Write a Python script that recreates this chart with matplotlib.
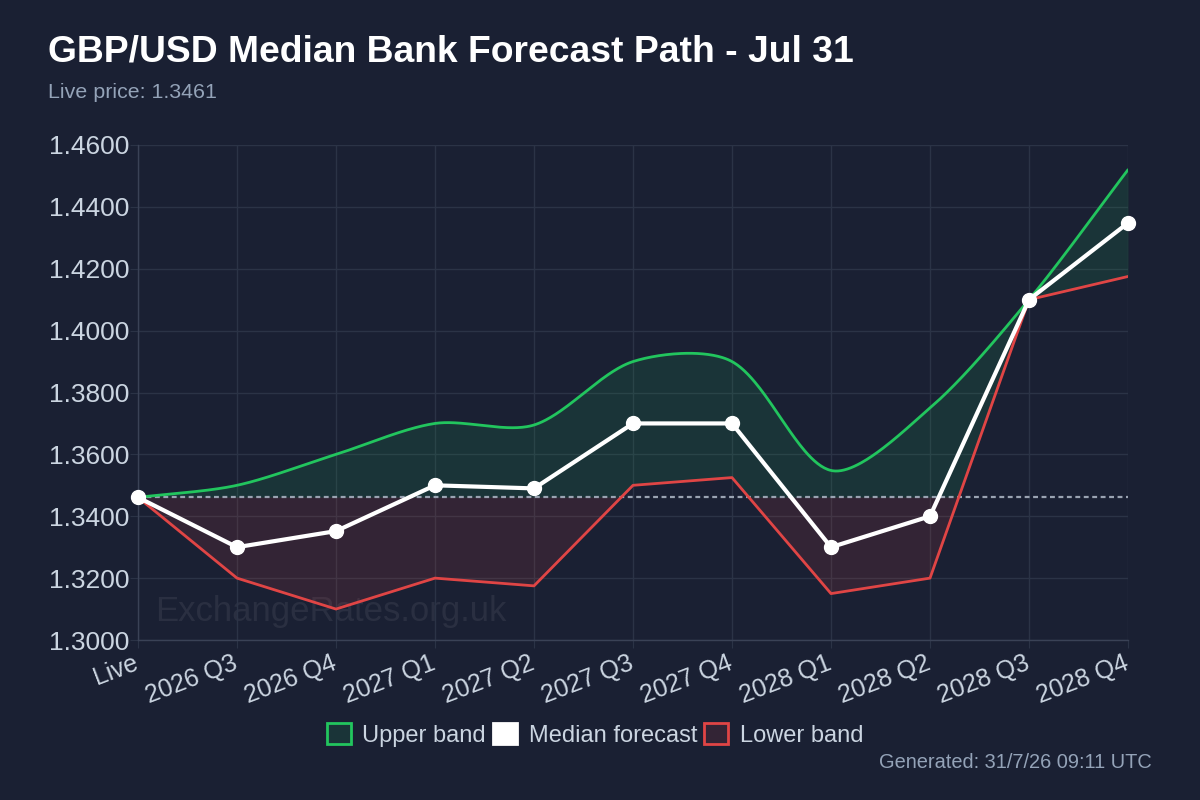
import numpy as np
import matplotlib
matplotlib.use("Agg")
import matplotlib.pyplot as plt
from matplotlib.patches import Patch
from matplotlib.transforms import ScaledTranslation

# ---------------- data ----------------
labels = ["Live", "2026 Q3", "2026 Q4", "2027 Q1", "2027 Q2", "2027 Q3",
          "2027 Q4", "2028 Q1", "2028 Q2", "2028 Q3", "2028 Q4"]
upper = [1.3461, 1.3500, 1.3600, 1.3700, 1.3695, 1.3900, 1.3900, 1.3548, 1.3750, 1.4100, 1.4520]
median = [1.3461, 1.3300, 1.3352, 1.3500, 1.3490, 1.3700, 1.3700, 1.3300, 1.3400, 1.4100, 1.4348]
lower = [1.3461, 1.3200, 1.3100, 1.3200, 1.3175, 1.3500, 1.3525, 1.3150, 1.3200, 1.4100, 1.4175]
live_price = 1.3461
y_ticks = [1.30, 1.32, 1.34, 1.36, 1.38, 1.40, 1.42, 1.44, 1.46]

title = "GBP/USD Median Bank Forecast Path - Jul 31"
subtitle = "Live price: 1.3461"
generated = "Generated: 31/7/26 09:11 UTC"
watermark = "ExchangeRates.org.uk"

# ---------------- style ----------------
BG = "#1a2033"
GRID = "#2b3346"
TXT = "#cbd5e1"
MUTED = "#94a3b8"
GREEN = "#22c55e"
RED = "#e04545"
plt.rcParams["font.family"] = ["Liberation Sans", "DejaVu Sans"]

fig = plt.figure(figsize=(12, 8), dpi=100, facecolor=BG)
ax = fig.add_axes([138 / 1200, 160 / 800, 990 / 1200, 495 / 800])
ax.set_facecolor(BG)

x = np.arange(len(labels))
ax.set_xlim(0, len(labels) - 1)
ax.set_ylim(y_ticks[0], y_ticks[-1])


# Chart.js-like bezier spline (tension) computed in pixel space
def spline_path(xs, ys, t=0.3, n=60):
    pts = ax.transData.transform(np.column_stack([xs, ys]))
    N = len(pts)
    cp_prev = np.zeros_like(pts)
    cp_next = np.zeros_like(pts)
    for i in range(N):
        prev = pts[i - 1] if i > 0 else pts[i]
        nxt = pts[i + 1] if i < N - 1 else pts[i]
        d01 = np.hypot(*(pts[i] - prev))
        d12 = np.hypot(*(nxt - pts[i]))
        tot = d01 + d12
        s01 = d01 / tot if tot > 0 else 0
        s12 = d12 / tot if tot > 0 else 0
        cp_prev[i] = pts[i] - t * s01 * (nxt - prev)
        cp_next[i] = pts[i] + t * s12 * (nxt - prev)
    out = [pts[0]]
    tt = np.linspace(0, 1, n)[1:, None]
    for i in range(N - 1):
        p0, p1, p2, p3 = pts[i], cp_next[i], cp_prev[i + 1], pts[i + 1]
        seg = ((1 - tt) ** 3) * p0 + 3 * ((1 - tt) ** 2) * tt * p1 + 3 * (1 - tt) * tt ** 2 * p2 + tt ** 3 * p3
        out.extend(seg)
    out = np.array(out)
    return ax.transData.inverted().transform(out)


up_curve = spline_path(x, upper)
order = np.argsort(up_curve[:, 0], kind="stable")
xd = np.linspace(0, len(labels) - 1, 2000)
up_d = np.interp(xd, up_curve[order, 0], up_curve[order, 1])
lo_d = np.interp(xd, x, lower)

# fills
floor_d = np.maximum(lo_d, live_price)
ax.fill_between(xd, up_d, floor_d, where=up_d >= floor_d,
                color=GREEN, alpha=0.12, linewidth=0, interpolate=True, zorder=1)
ax.fill_between(xd, lo_d, live_price, where=lo_d < live_price,
                color=RED, alpha=0.13, linewidth=0, interpolate=True, zorder=1)

# grid
ax.set_xticks(x)
ax.set_yticks(y_ticks)
ax.grid(True, color=GRID, linewidth=1)
ax.set_axisbelow(True)
for s in ["top", "right"]:
    ax.spines[s].set_visible(False)
for s in ["left", "bottom"]:
    ax.spines[s].set_color("#3a4256")
    ax.spines[s].set_linewidth(1)

ax.text(0.017, 0.057, watermark, transform=ax.transAxes, fontsize=25,
        color="#ffffff", alpha=0.07, va="center", ha="left", zorder=0)

# baseline
ax.axhline(live_price, color="#9aa3b2", linewidth=1.6, linestyle=(0, (2.2, 1.6)), zorder=2)

# lines
ax.plot(up_curve[:, 0], up_curve[:, 1], color=GREEN, linewidth=2, zorder=3, solid_capstyle="round")
ax.plot(x, lower, color=RED, linewidth=2, zorder=3)
ax.plot(x, median, color="white", linewidth=3, zorder=4, marker="o", markersize=10,
        markerfacecolor="white", markeredgecolor="white", clip_on=False)

# ticks
ax.set_yticklabels([f"{v:.4f}" for v in y_ticks])
ax.tick_params(axis="y", colors=GRID, labelcolor=TXT, labelsize=19, length=6, pad=0)
ax.set_xticklabels(labels)
ax.tick_params(axis="x", colors=GRID, labelcolor=TXT, labelsize=18, length=6, pad=0)
for lab in ax.get_xticklabels():
    lab.set_rotation(21)
    lab.set_ha("right")
    lab.set_va("top")
    lab.set_rotation_mode("anchor")
    lab.set_transform(lab.get_transform() + ScaledTranslation(-5 / 100, -3 / 100, fig.dpi_scale_trans))

# titles
fig.text(48 / 1200, 1 - 62 / 800, title, color="white", fontsize=26.8, fontweight="bold",
         ha="left", va="baseline")
fig.text(48 / 1200, 1 - 98 / 800, subtitle, color=MUTED, fontsize=15.4, ha="left", va="baseline")
fig.text(1152 / 1200, 1 - 768 / 800, generated, color=MUTED, fontsize=14.4, ha="right", va="baseline")

# legend
handles = [
    Patch(facecolor=(0.133, 0.773, 0.369, 0.12), edgecolor=GREEN, linewidth=2, label="Upper band"),
    Patch(facecolor="white", edgecolor="white", linewidth=2, label="Median forecast"),
    Patch(facecolor=(0.88, 0.27, 0.27, 0.13), edgecolor=RED, linewidth=2, label="Lower band"),
]
leg = fig.legend(handles=handles, loc="center", bbox_to_anchor=(595 / 1200, 1 - 735 / 800), ncol=3,
                 frameon=False, fontsize=17, handlelength=1.0, handleheight=1.0,
                 handletextpad=0.5, columnspacing=0.3, labelcolor=TXT)

fig.savefig("out.png", dpi=100, facecolor=BG)
